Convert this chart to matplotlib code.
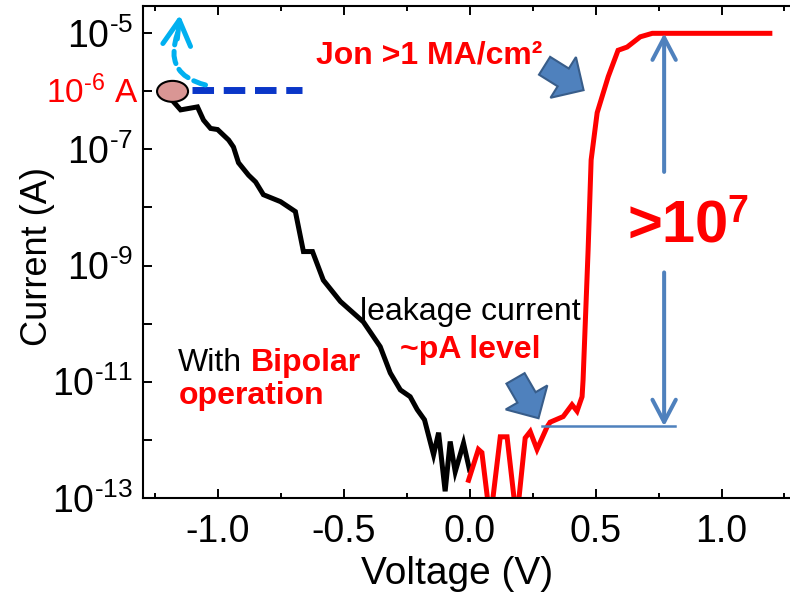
import numpy as np
import matplotlib.pyplot as plt
from matplotlib.patches import Ellipse, Polygon, FancyArrowPatch
from matplotlib.transforms import IdentityTransform
from matplotlib.ticker import MultipleLocator, FormatStrFormatter, NullLocator

plt.rcParams['font.family'] = ['Liberation Sans', 'DejaVu Sans']
plt.rcParams['mathtext.fontset'] = 'custom'
plt.rcParams['mathtext.rm'] = 'Liberation Sans'
plt.rcParams['mathtext.it'] = 'Liberation Sans:italic'
plt.rcParams['mathtext.bf'] = 'Liberation Sans:bold'
plt.rcParams['axes.unicode_minus'] = False

# negative sweep (black)
v_neg = [-1.177, -1.149, -1.082, -1.058, -1.030, -1.002, -0.958, -0.939, -0.919,
         -0.879, -0.851, -0.820, -0.752, -0.693, -0.661, -0.625, -0.582, -0.514,
         -0.423, -0.356, -0.316, -0.276, -0.237, -0.209, -0.180, -0.144, -0.124,
         -0.098, -0.078, -0.058, -0.025, -0.001]
i_neg = [6.6e-7, 4.8e-7, 5.4e-7, 3.2e-7, 2.3e-7, 2.2e-7, 1.45e-7, 1.1e-7, 5.9e-8,
         3.6e-8, 2.75e-8, 1.66e-8, 1.26e-8, 8.5e-9, 1.74e-9, 1.74e-9, 5.6e-10, 2.4e-10,
         1.07e-10, 4.0e-11, 1.41e-11, 7.2e-12, 5.5e-12, 3.3e-12, 2.2e-12, 5.5e-13, 1.32e-12,
         1.29e-13, 9.3e-13, 2.8e-13, 8.7e-13, 3.0e-13]

# positive sweep (red)
v_pos = [-0.005, 0.034, 0.048, 0.081, 0.121, 0.148, 0.186, 0.220, 0.240, 0.267,
         0.307, 0.319, 0.371, 0.406, 0.426, 0.446, 0.450, 0.470, 0.482, 0.506,
         0.550, 0.589, 0.625, 0.677, 0.725, 1.192]
i_pos = [2.0e-13, 6.8e-13, 6.0e-13, 4e-14, 1.12e-12, 1.12e-12, 4e-14, 1.07e-12, 1.38e-12, 6.8e-13,
         1.66e-12, 2.0e-12, 2.5e-12, 4.0e-12, 3.1e-12, 5.5e-12, 1.07e-11, 1.86e-9, 6.6e-8, 4.3e-7,
         1.8e-6, 5.1e-6, 5.8e-6, 8.7e-6, 1.0e-5, 1.0e-5]

i_off = 1.7e-12   # leakage level
i_on = 1.0e-5     # on-state level
i_cc = 1.0e-6     # compliance

x_ticks = [-1.0, -0.5, 0.0, 0.5, 1.0]
y_ticks = [1e-13, 1e-12, 1e-11, 1e-10, 1e-9, 1e-8, 1e-7, 1e-6, 1e-5]
hy = '\u2010'
y_labels = [rf'$10^{{{hy}13}}$', '', rf'$10^{{{hy}11}}$', '', rf'$10^{{{hy}9}}$', '',
            rf'$10^{{{hy}7}}$', '', rf'$10^{{{hy}5}}$']

red = '#FF0000'
steel = '#4F81BD'

fig = plt.figure(figsize=(7.9, 5.95), dpi=100)
ax = fig.add_axes([0.1805, 0.1635, 0.8284, 0.8269])

ax.plot(v_neg, i_neg, color='black', lw=3.6, solid_joinstyle='miter', zorder=2)
ax.plot(v_pos, i_pos, color=red, lw=3.6, solid_joinstyle='miter', zorder=2)

ax.set_yscale('log')
ax.set_xlim(-1.3, 1.3)
ax.set_ylim(1e-13, 2.99e-5)

ax.set_xticks(x_ticks)
ax.xaxis.set_major_formatter(FormatStrFormatter('%.1f'))
ax.xaxis.set_minor_locator(MultipleLocator(0.25))
ax.set_yticks(y_ticks)
ax.set_yticklabels(y_labels)
ax.yaxis.set_minor_locator(NullLocator())
ax.tick_params(which='both', direction='in', top=True, right=False, width=1.4)
ax.tick_params(which='major', length=6.5, labelsize=27)
ax.tick_params(which='minor', length=3.6)
ax.tick_params(axis='x', pad=12)
ax.tick_params(axis='y', pad=7)
for s in ax.spines.values():
    s.set_linewidth(1.5)

ax.set_xlabel('Voltage (V)', fontsize=28)
ax.xaxis.set_label_coords(0.481, -0.118)
ax.set_ylabel('Current (A)', fontsize=26)
ax.yaxis.set_label_coords(-0.134, 0.49)

# on/off ratio marker
ax.plot([0.286, 0.815], [i_off, i_off], color=steel, lw=1.8, zorder=3)
ax.add_patch(FancyArrowPatch((0.772, 4.1e-8), (0.772, i_on), arrowstyle='->,head_length=0.8,head_width=0.42',
                             mutation_scale=20, lw=2.9, color=steel, shrinkA=0, shrinkB=0, zorder=3))
ax.add_patch(FancyArrowPatch((0.772, 7.6e-10), (0.772, i_off), arrowstyle='->,head_length=0.8,head_width=0.42',
                             mutation_scale=20, lw=2.9, color=steel, shrinkA=0, shrinkB=0, zorder=3))
ax.text(0.625, 2.45e-9, '>10', color=red, fontsize=43, fontweight='bold', va='baseline')
ax.text(1.025, 5.6e-9, '7', color=red, fontsize=27, fontweight='bold', va='baseline')

# compliance marker
ax.plot([-1.103, -0.666], [1.05e-6, 1.05e-6], color='#0A36C8', lw=5, dashes=(3.1, 1.4),
        solid_capstyle='butt', zorder=4)
ax.add_patch(FancyArrowPatch((-1.050, 1.29e-6), (-1.161, 1.01e-5), connectionstyle='arc3,rad=-0.55',
                             arrowstyle='-', lw=3.6, color='#00B0F0', linestyle=(0, (2.5, 1.3)),
                             shrinkA=0, shrinkB=0, zorder=4))
ax.add_patch(FancyArrowPatch((-1.162, 8.0e-6), (-1.152, 2.07e-5), arrowstyle='->,head_length=0.9,head_width=0.5',
                             mutation_scale=20, lw=3.6, color='#00B0F0', shrinkA=0, shrinkB=0, zorder=4))

ex, ey = ax.transData.transform((-1.181, 1.0e-6))
ax.add_patch(Ellipse((ex, ey), 31, 21, transform=IdentityTransform(), fc='#D99694', ec='black',
                     lw=1.5, zorder=5, clip_on=False))
ax.text(-1.316, 6.3e-7, rf'$10^{{{hy}6}}$ A', color=red, fontsize=24, ha='right', va='baseline',
        clip_on=False)


def block_arrow(tip_v, tip_i, angle, length=46, shaft=21, head_w=48, head_l=24):
    tx, ty = ax.transData.transform((tip_v, tip_i))
    pts = np.array([[0, 0], [-head_l, head_w / 2], [-head_l, shaft / 2], [-length, shaft / 2],
                    [-length, -shaft / 2], [-head_l, -shaft / 2], [-head_l, -head_w / 2]])
    a = np.radians(angle)
    rot = np.array([[np.cos(a), -np.sin(a)], [np.sin(a), np.cos(a)]])
    pts = pts @ rot.T + [tx, ty]
    ax.add_patch(Polygon(pts, closed=True, transform=IdentityTransform(), fc=steel,
                         ec='#385D8A', lw=1.5, zorder=5, clip_on=False))


block_arrow(0.452, 1.05e-6, -32)
block_arrow(0.273, 2.34e-12, -60)

ax.text(-0.613, 3.0e-6, 'Jon >1 MA/cm²', color=red, fontsize=23, fontweight='bold', va='baseline')
ax.text(-0.435, 1.17e-10, 'leakage current', color='black', fontsize=23, va='baseline')
ax.text(-0.276, 2.6e-11, '~pA level', color=red, fontsize=23, fontweight='bold', va='baseline')
ax.text(-1.161, 1.5e-11, 'With', color='black', fontsize=23, va='baseline')
ax.text(-0.871, 1.5e-11, 'Bipolar', color=red, fontsize=23, fontweight='bold', va='baseline')
ax.text(-1.157, 4.1e-12, 'operation', color=red, fontsize=23, fontweight='bold', va='baseline')

fig.savefig('out.png', dpi=100)
